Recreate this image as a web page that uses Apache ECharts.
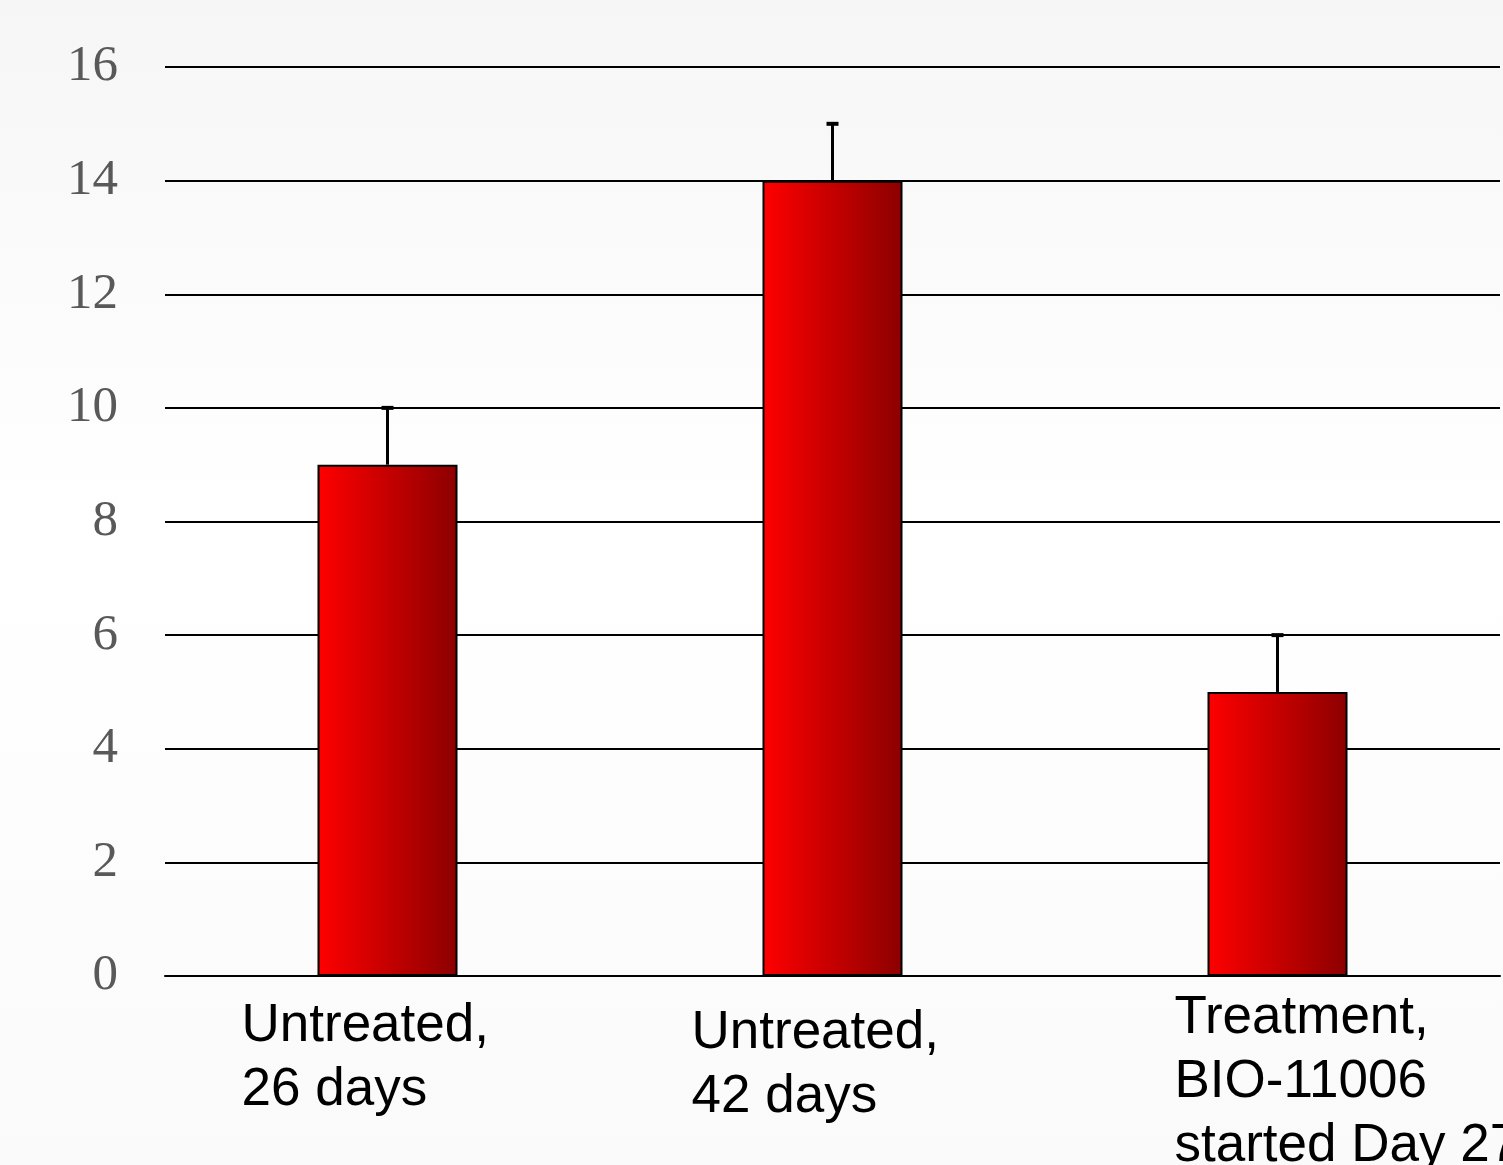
<!DOCTYPE html>
<html>
<head>
<meta charset="utf-8">
<script src="https://cdn.jsdelivr.net/npm/echarts@6/dist/echarts.min.js"></script>
<style>
html,body{margin:0;padding:0;background:#fff;}
#chart{width:1503px;height:1165px;}
</style>
</head>
<body>
<div id="chart"></div>
<script>
const categories = ['Untreated,\n26 days', 'Untreated,\n42 days', 'Treatment,\nBIO-11006\nstarted Day 27'];
const values = [9, 14, 5];
const errors = [1, 1, 1];
const yTicks = [0, 2, 4, 6, 8, 10, 12, 14, 16];

// per-label placement (left offset from bar centre, top offset)
const labelShift = [[-146, 8], [-141, 15], [-103, 0]];

const chart = echarts.init(document.getElementById('chart'));
chart.setOption({
  animation: false,
  backgroundColor: {
    type: 'linear', x: 0, y: 0, x2: 0, y2: 1,
    colorStops: [
      { offset: 0, color: '#f6f6f6' },
      { offset: 0.45, color: '#ffffff' },
      { offset: 1, color: '#fafafa' }
    ]
  },
  grid: { left: 165, right: 3, top: 67, bottom: 189, containLabel: false, outerBoundsMode: 'none' },
  xAxis: {
    type: 'category',
    data: categories.map((c, i) => ({
      value: c,
      textStyle: { align: 'left', verticalAlign: 'top', padding: [labelShift[i][1], 0, 0, labelShift[i][0]] }
    })),
    axisLine: { show: true, lineStyle: { color: '#000', width: 2 } },
    axisTick: { show: false },
    axisLabel: {
      interval: 0,
      margin: 10,
      align: 'left',
      verticalAlign: 'top',
      color: '#000',
      fontFamily: '"Liberation Sans", Arial, sans-serif',
      fontSize: 53,
      lineHeight: 64,
      hideOverlap: false
    }
  },
  yAxis: {
    type: 'value',
    min: yTicks[0],
    max: yTicks[yTicks.length - 1],
    interval: 2,
    axisLine: { show: false },
    axisTick: { show: false },
    splitLine: { show: true, lineStyle: { color: '#000', width: 2 } },
    axisLabel: {
      margin: 47,
      color: '#595959',
      fontFamily: '"Liberation Serif", "Times New Roman", serif',
      fontSize: 51,
      padding: [3, 0, 0, 0]
    }
  },
  series: [
    {
      type: 'bar',
      data: values,
      barWidth: 140,
      itemStyle: {
        color: {
          type: 'linear', x: 0, y: 0, x2: 1, y2: 0,
          colorStops: [
            { offset: 0, color: '#ff0000' },
            { offset: 1, color: '#8c0000' }
          ]
        },
        borderColor: '#000',
        borderWidth: 2
      },
      z: 3
    },
    {
      type: 'custom',
      data: values.map((v, i) => [i, v, v + errors[i]]),
      renderItem: function (params, api) {
        const x = api.value(0);
        const p0 = api.coord([x, api.value(1)]);
        const p1 = api.coord([x, api.value(2)]);
        return {
          type: 'group',
          children: [
            { type: 'line', shape: { x1: p0[0], y1: p0[1], x2: p1[0], y2: p1[1] }, style: { stroke: '#000', lineWidth: 3 } },
            { type: 'line', shape: { x1: p1[0] - 6, y1: p1[1], x2: p1[0] + 6, y2: p1[1] }, style: { stroke: '#000', lineWidth: 4 } }
          ]
        };
      },
      z: 4
    }
  ]
});
</script>
</body>
</html>
